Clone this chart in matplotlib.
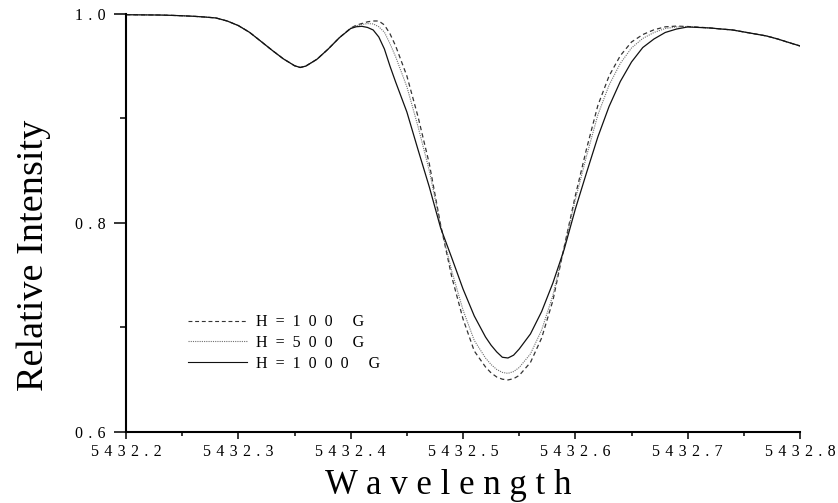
import matplotlib
matplotlib.use("Agg")
import matplotlib.pyplot as plt
from matplotlib.ticker import MultipleLocator

# ----------------------------
# Data
# ----------------------------
WAVELENGTH = [
    5432.20, 5432.21, 5432.22, 5432.23, 5432.24, 5432.25, 5432.26, 5432.27, 5432.28, 5432.29,
    5432.30, 5432.31, 5432.32, 5432.33, 5432.34, 5432.35, 5432.355, 5432.36, 5432.37, 5432.38,
    5432.39, 5432.40, 5432.405, 5432.41, 5432.415, 5432.42, 5432.425, 5432.43, 5432.435,
    5432.44, 5432.45, 5432.46, 5432.47, 5432.48, 5432.49, 5432.50, 5432.51, 5432.52,
    5432.525, 5432.53, 5432.535, 5432.54, 5432.545, 5432.55, 5432.56, 5432.57, 5432.58,
    5432.59, 5432.60, 5432.61, 5432.62, 5432.63, 5432.64, 5432.65, 5432.66, 5432.67,
    5432.68, 5432.69, 5432.70, 5432.71, 5432.72, 5432.73, 5432.74, 5432.75, 5432.76,
    5432.77, 5432.78, 5432.79, 5432.80,
]

H100 = [
    0.9993, 0.9992, 0.9991, 0.9990, 0.9987, 0.9983, 0.9978, 0.9971, 0.9962, 0.9933,
    0.9889, 0.9824, 0.9739, 0.9653, 0.9571, 0.9505, 0.9488, 0.9501, 0.9567, 0.9665,
    0.9774, 0.9865, 0.9893, 0.9909, 0.9925, 0.9933, 0.9933, 0.9895, 0.9810,
    0.9694, 0.9407, 0.9014, 0.8565, 0.7985, 0.7483, 0.7081, 0.6775, 0.6622,
    0.6565, 0.6526, 0.6505, 0.6498, 0.6510, 0.6541, 0.6665, 0.6900, 0.7258,
    0.7770, 0.8263, 0.8712, 0.9124, 0.9407, 0.9601, 0.9732, 0.9803, 0.9849,
    0.9877, 0.9884, 0.9880, 0.9874, 0.9866, 0.9856, 0.9847, 0.9828, 0.9809,
    0.9790, 0.9761, 0.9727, 0.9694,
]

H500 = [
    0.9993, 0.9992, 0.9991, 0.9990, 0.9987, 0.9983, 0.9978, 0.9971, 0.9962, 0.9933,
    0.9889, 0.9824, 0.9739, 0.9653, 0.9571, 0.9505, 0.9488, 0.9501, 0.9567, 0.9665,
    0.9774, 0.9863, 0.9887, 0.9900, 0.9908, 0.9905, 0.9878, 0.9826, 0.9715,
    0.9591, 0.9304, 0.8920, 0.8499, 0.7976, 0.7538, 0.7167, 0.6876, 0.6708,
    0.6645, 0.6598, 0.6570, 0.6561, 0.6578, 0.6617, 0.6747, 0.6976, 0.7308,
    0.7763, 0.8224, 0.8643, 0.9034, 0.9319, 0.9527, 0.9675, 0.9766, 0.9823,
    0.9861, 0.9876, 0.9879, 0.9872, 0.9866, 0.9856, 0.9847, 0.9828, 0.9809,
    0.9790, 0.9761, 0.9727, 0.9694,
]

H1000 = [
    0.9993, 0.9992, 0.9991, 0.9990, 0.9987, 0.9983, 0.9978, 0.9971, 0.9962, 0.9933,
    0.9889, 0.9824, 0.9739, 0.9653, 0.9571, 0.9505, 0.9488, 0.9501, 0.9567, 0.9665,
    0.9774, 0.9861, 0.9878, 0.9882, 0.9871, 0.9847, 0.9780, 0.9665, 0.9500,
    0.9349, 0.9062, 0.8699, 0.8344, 0.7955, 0.7665, 0.7368, 0.7110, 0.6909,
    0.6830, 0.6766, 0.6715, 0.6708, 0.6735, 0.6794, 0.6938, 0.7153, 0.7426,
    0.7746, 0.8134, 0.8483, 0.8823, 0.9115, 0.9354, 0.9541, 0.9679, 0.9761,
    0.9823, 0.9856, 0.9876, 0.9871, 0.9866, 0.9856, 0.9847, 0.9828, 0.9809,
    0.9790, 0.9761, 0.9727, 0.9694,
]

SERIES_LABELS = ["H=100 G", "H=500 G", "H=1000 G"]

XTICKS = [5432.2, 5432.3, 5432.4, 5432.5, 5432.6, 5432.7, 5432.8]
XTICK_LABELS = ["5432.2", "5432.3", "5432.4", "5432.5", "5432.6", "5432.7", "5432.8"]
YTICKS = [0.6, 0.8, 1.0]
YTICK_LABELS = ["0.6", "0.8", "1.0"]

X_LABEL = "Wavelength"
Y_LABEL = "Relative Intensity"

plt.rcParams["font.family"] = ["Liberation Serif", "DejaVu Serif"]

# space + hair space: the scanned original has wide letter spacing on its labels
GAP = " \u200a"


def spaced(text, gap=GAP):
    return gap.join(text)


# ----------------------------
# Plot
# ----------------------------
fig = plt.figure(figsize=(8.38, 5.03), dpi=100)
ax = fig.add_axes([0.1504, 0.1412, 0.8043, 0.8310])

ax.plot(WAVELENGTH, H100, color="#333333", linewidth=0.9, linestyle=(0, (3.5, 2.5)),
        label=spaced(SERIES_LABELS[0], "  "))
ax.plot(WAVELENGTH, H500, color="#707070", linewidth=0.8, linestyle=(0, (1, 1)),
        label=spaced(SERIES_LABELS[1], "  "))
ax.plot(WAVELENGTH, H1000, color="#111111", linewidth=0.9, linestyle="-",
        label=spaced(SERIES_LABELS[2], "  "))

ax.set_xlim(XTICKS[0], XTICKS[-1])
ax.set_ylim(YTICKS[0], YTICKS[-1])

ax.set_xticks(XTICKS)
ax.set_xticklabels([spaced(t) for t in XTICK_LABELS])
ax.set_yticks(YTICKS)
ax.set_yticklabels([spaced(t) for t in YTICK_LABELS])
ax.xaxis.set_minor_locator(MultipleLocator(0.05))
ax.yaxis.set_minor_locator(MultipleLocator(0.1))

ax.tick_params(axis="x", which="major", direction="out", length=5, width=1.1,
               labelsize=11.5, pad=3.5)
ax.tick_params(axis="x", which="minor", direction="out", length=3, width=1.1)
ax.tick_params(axis="y", which="major", direction="out", length=8.5, width=1.1,
               labelsize=11.5, pad=6)
ax.tick_params(axis="y", which="minor", direction="out", length=4.5, width=1.1)

for side in ["top", "right"]:
    ax.spines[side].set_visible(False)
for side in ["left", "bottom"]:
    ax.spines[side].set_linewidth(1.5)

ax.set_xlabel(spaced(X_LABEL, " "), fontsize=25)
ax.xaxis.set_label_coords(0.478, -0.088)
ax.set_ylabel(Y_LABEL, fontsize=27.5)
ax.yaxis.set_label_coords(-0.112, 0.423)

leg = ax.legend(loc="upper left", bbox_to_anchor=(0.092, 0.282), frameon=False,
                fontsize=11.5, handlelength=3.7, handletextpad=0.55,
                labelspacing=0.3, borderpad=0, borderaxespad=0)
for line in leg.get_lines():
    line.set_linewidth(0.8)

fig.savefig("out.png", dpi=100)
plt.close(fig)
